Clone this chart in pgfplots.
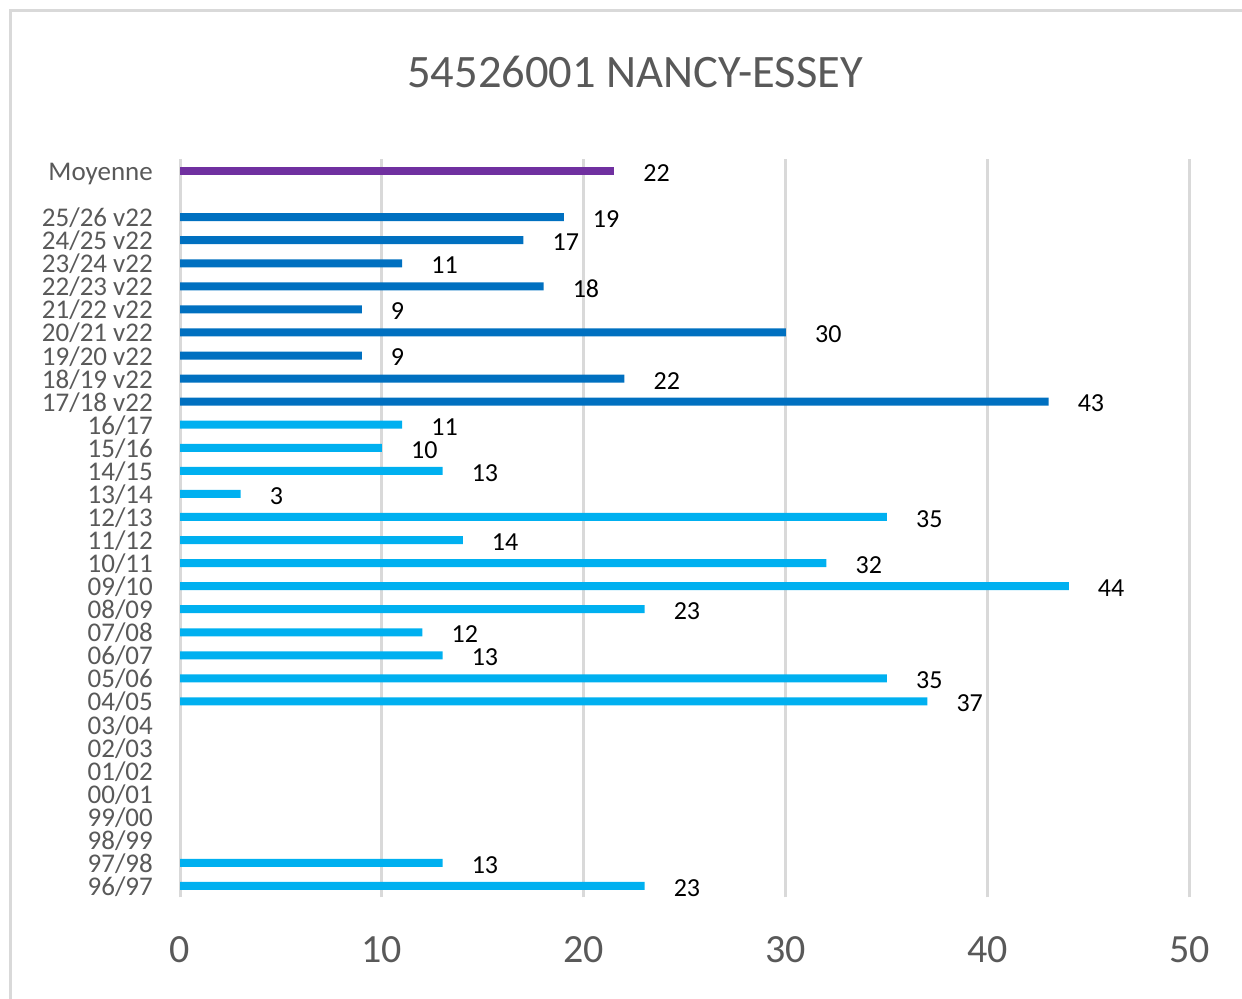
\documentclass[border=0pt]{standalone}
\usepackage{pgfplots}
\pgfplotsset{compat=1.18}
\usepackage{fontspec}
\setmainfont{Carlito}
\definecolor{lightbar}{HTML}{00B0F0}
\definecolor{darkbar}{HTML}{0070C0}
\definecolor{purplebar}{HTML}{7030A0}
\definecolor{gridgray}{HTML}{D9D9D9}
\definecolor{txtgray}{HTML}{595959}
\begin{document}
\begin{tikzpicture}[x=1bp,y=1bp]
\draw[gridgray, line width=3bp] (10,0) -- (10,988) -- (1242,988);
\node[anchor=base, text=txtgray, inner sep=0pt, font=\fontsize{46.5bp}{55bp}\selectfont] at (635,911) {54526001 NANCY-ESSEY};
\begin{axis}[
  at={(180bp,101.5bp)}, anchor=south west,
  scale only axis, width=1010bp, height=738bp,
  xmin=0, xmax=50, ymin=-0.5, ymax=31.5,
  xtick={0,10,20,30,40,50},
  ytick={0,1,...,29,31},
  yticklabels={96/97,97/98,98/99,99/00,00/01,01/02,02/03,03/04,04/05,05/06,06/07,07/08,08/09,09/10,10/11,11/12,12/13,13/14,14/15,15/16,16/17,17/18 v22,18/19 v22,19/20 v22,20/21 v22,21/22 v22,22/23 v22,23/24 v22,24/25 v22,25/26 v22,Moyenne},
  /pgf/number format/assume math mode=true,
  xmajorgrids, ymajorgrids=false,
  major grid style={draw=gridgray, line width=3bp},
  axis line style={draw=none},
  tick style={draw=none},
  major tick length=0pt,
  xticklabel style={anchor=center, inner sep=0pt, yshift=-52.5bp, text=txtgray, font=\fontsize{40bp}{48bp}\selectfont},
  yticklabel style={anchor=base east, inner sep=0pt, xshift=-27bp, yshift=-9.5bp, text=txtgray, font=\fontsize{27bp}{32bp}\selectfont},
  xbar, bar width=8bp, bar shift=0pt,
  nodes near coords,
  point meta=explicit symbolic,
  every node near coord/.append style={anchor=west, inner sep=0pt, xshift=29bp, yshift=-2bp, text=black, font=\fontsize{26bp}{31bp}\selectfont},
  clip=false,
]
\addplot[draw=none, fill=lightbar] coordinates {
(23,0) [23] (13,1) [13]
(37,8) [37] (35,9) [35] (13,10) [13] (12,11) [12] (23,12) [23]
(44,13) [44] (32,14) [32] (14,15) [14] (35,16) [35] (3,17) [3]
(13,18) [13] (10,19) [10] (11,20) [11]
};
\addplot[draw=none, fill=darkbar] coordinates {
(43,21) [43] (22,22) [22] (9,23) [9] (30,24) [30] (9,25) [9]
(18,26) [18] (11,27) [11] (17,28) [17] (19,29) [19]
};
\addplot[draw=none, fill=purplebar] coordinates {
(21.5,31) [22]
};
\end{axis}
\pgfresetboundingbox
\path (0,0) rectangle (1242,999);
\end{tikzpicture}
\end{document}
